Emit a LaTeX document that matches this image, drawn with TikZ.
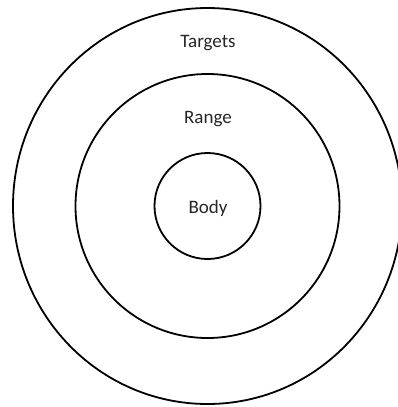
\documentclass[tikz,border=0pt]{standalone}
\usepackage{fontspec}
\setmainfont{Carlito}
\usetikzlibrary{shapes.geometric}

\begin{document}
\begin{tikzpicture}[
  x=1pt, y=-1pt,
  font=\fontsize{19}{22}\selectfont,
  ring/.style ={circle, draw=black, line width=1.8pt, inner sep=0pt},
  outer/.style={ellipse, draw=black, line width=1.8pt, inner sep=0pt},
  tag/.style  ={inner sep=1pt, text=black!85},
]
\useasboundingbox[fill=white] (0,0) rectangle (398,407);

% ---- rings ----
\coordinate (c) at (207.5,206);
\node[outer, minimum width=389pt, minimum height=396pt] (targets) at (c) {};
\node[ring,  minimum size=264pt]                      (range)   at (c) {};
\node[ring,  minimum size=106pt]                      (body)    at (c) {};

% ---- labels ----
\node[tag] (tlabel) at (208,43)  {Targets};
\node[tag] (rlabel) at (208,119) {Range};
\node[tag] (blabel) at (208,208) {Body};

\end{tikzpicture}
\end{document}
